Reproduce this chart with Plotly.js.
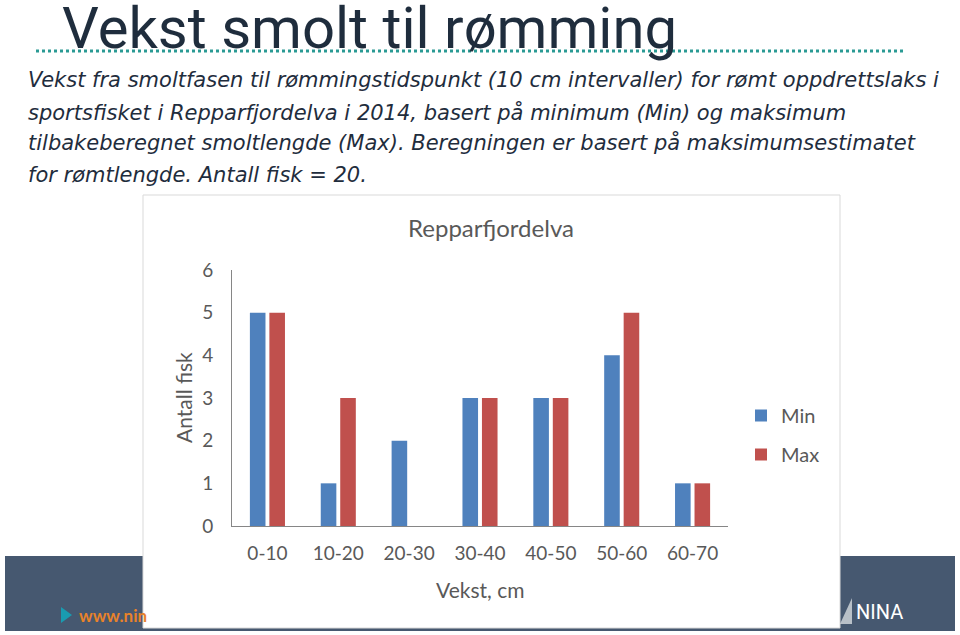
<!DOCTYPE html>
<html>
<head>
<meta charset="utf-8">
<script src="https://cdn.plot.ly/plotly-3.0.1.min.js"></script>
<style>html,body{margin:0;padding:0;background:#fff;}#chart{width:960px;height:635px;}</style>
</head>
<body>
<div id="chart"></div>
<script>
var categories = ["0-10", "10-20", "20-30", "30-40", "40-50", "50-60", "60-70"];
var minValues = [5, 1, 2, 3, 3, 4, 1];
var maxValues = [5, 3, 0, 3, 3, 5, 1];
var seriesNames = ["Min", "Max"];
var slideTitle = "Vekst smolt til rømming";
var subtitleLines = [
  "Vekst fra smoltfasen til rømmingstidspunkt (10 cm intervaller) for rømt oppdrettslaks i",
  "sportsfisket i Repparfjordelva i 2014, basert på minimum (Min) og maksimum",
  "tilbakeberegnet smoltlengde (Max). Beregningen er basert på maksimumsestimatet",
  "for rømtlengde. Antall fisk = 20."
];
var chartTitle = "Repparfjordelva";
var xTitle = "Vekst, cm";
var yTitle = "Antall fisk";

var W = 960, H = 635;
function px(x){ return x / W; }
function py(y){ return 1 - y / H; }

var chartFont = "Lato, 'Open Sans', sans-serif";
var grey = "#595959";

var traces = [
  {type: "bar", name: seriesNames[0], x: categories, y: minValues, marker: {color: "#4F81BD"}, legendgroup: "a"},
  {type: "bar", name: seriesNames[1], x: categories, y: maxValues, marker: {color: "#C0504D"}, legendgroup: "b"}
];

var annotations = [
  {text: slideTitle, x: px(60), y: py(28), xref: "paper", yref: "paper", xanchor: "left", yanchor: "middle", showarrow: false,
   font: {family: "Roboto, sans-serif", size: 58, color: "#1f2d3d"}},
  {text: chartTitle, x: px(491), y: py(228), xref: "paper", yref: "paper", xanchor: "center", yanchor: "middle", showarrow: false,
   font: {family: chartFont, size: 24, color: grey}},
  {text: xTitle, x: px(480), y: py(589), xref: "paper", yref: "paper", xanchor: "center", yanchor: "middle", showarrow: false,
   font: {family: chartFont, size: 21, color: grey}},
  {text: yTitle, x: px(183), y: py(398), xref: "paper", yref: "paper", xanchor: "center", yanchor: "middle", showarrow: false, textangle: -90,
   font: {family: chartFont, size: 21, color: grey}},
  {text: "<b>www.nin</b>", x: px(77), y: py(615), xref: "paper", yref: "paper", xanchor: "left", yanchor: "middle", showarrow: false,
   font: {family: "Lato, sans-serif", size: 17, color: "#e8822a"}},
  {text: "NINA", x: px(854), y: py(612), xref: "paper", yref: "paper", xanchor: "left", yanchor: "middle", showarrow: false,
   font: {family: "Roboto, sans-serif", size: 20, color: "#ffffff"}}
];
var lineYs = [80, 112, 143, 175];
for (var i = 0; i < subtitleLines.length; i++) {
  annotations.push({text: "<i>" + subtitleLines[i] + "</i>", x: px(26), y: py(lineYs[i]), xref: "paper", yref: "paper",
    xanchor: "left", yanchor: "middle", showarrow: false,
    font: {family: "'DejaVu Sans', sans-serif", size: 21, color: "#1f2d3d"}});
}

var shapes = [
  {type: "rect", xref: "paper", yref: "paper", x0: px(5), x1: px(955), y0: py(556), y1: py(631), fillcolor: "#465870", line: {width: 0}, layer: "below"},
  {type: "path", xref: "paper", yref: "paper", path: "M " + px(61) + " " + py(607) + " L " + px(72) + " " + py(615) + " L " + px(61) + " " + py(623) + " Z", fillcolor: "#1a9bb0", line: {width: 0}, layer: "below"},
  {type: "path", xref: "paper", yref: "paper", path: "M " + px(840) + " " + py(624) + " L " + px(852) + " " + py(598) + " L " + px(852) + " " + py(624) + " Z", fillcolor: "#b8c0c8", line: {width: 0}, layer: "below"},
  {type: "rect", xref: "paper", yref: "paper", x0: px(143), x1: px(840), y0: py(195), y1: py(628), fillcolor: "#ffffff", line: {color: "#d9d9d9", width: 1}, layer: "below"},
  {type: "line", xref: "paper", yref: "paper", x0: px(36), x1: px(905), y0: py(51), y1: py(51), line: {color: "#2a9a94", width: 3, dash: "dot"}, layer: "below"}
];

var layout = {
  width: W, height: H,
  margin: {l: 0, r: 0, t: 0, b: 0},
  paper_bgcolor: "#ffffff",
  plot_bgcolor: "rgba(0,0,0,0)",
  barmode: "group",
  bargap: 0.45,
  bargroupgap: 0.2,
  showlegend: true,
  legend: {x: px(741), y: py(396), xanchor: "left", yanchor: "top", font: {family: chartFont, size: 20, color: grey},
           bgcolor: "rgba(0,0,0,0)", tracegroupgap: 10, itemwidth: 30},
  xaxis: {domain: [px(232), px(728)], showline: true, linecolor: "#868686", linewidth: 1, showgrid: false, zeroline: false,
          ticks: "", tickfont: {family: chartFont, size: 19, color: grey}, ticklabelstandoff: 10, fixedrange: true},
  yaxis: {domain: [py(526), py(270)], range: [0, 6], dtick: 1, showline: true, linecolor: "#868686", linewidth: 1,
          showgrid: false, zeroline: false, ticks: "", tickfont: {family: chartFont, size: 19, color: grey}, ticklabelstandoff: 14, fixedrange: true},
  annotations: annotations,
  shapes: shapes
};

Plotly.newPlot("chart", traces, layout, {displayModeBar: false, staticPlot: true});
</script>
</body>
</html>
